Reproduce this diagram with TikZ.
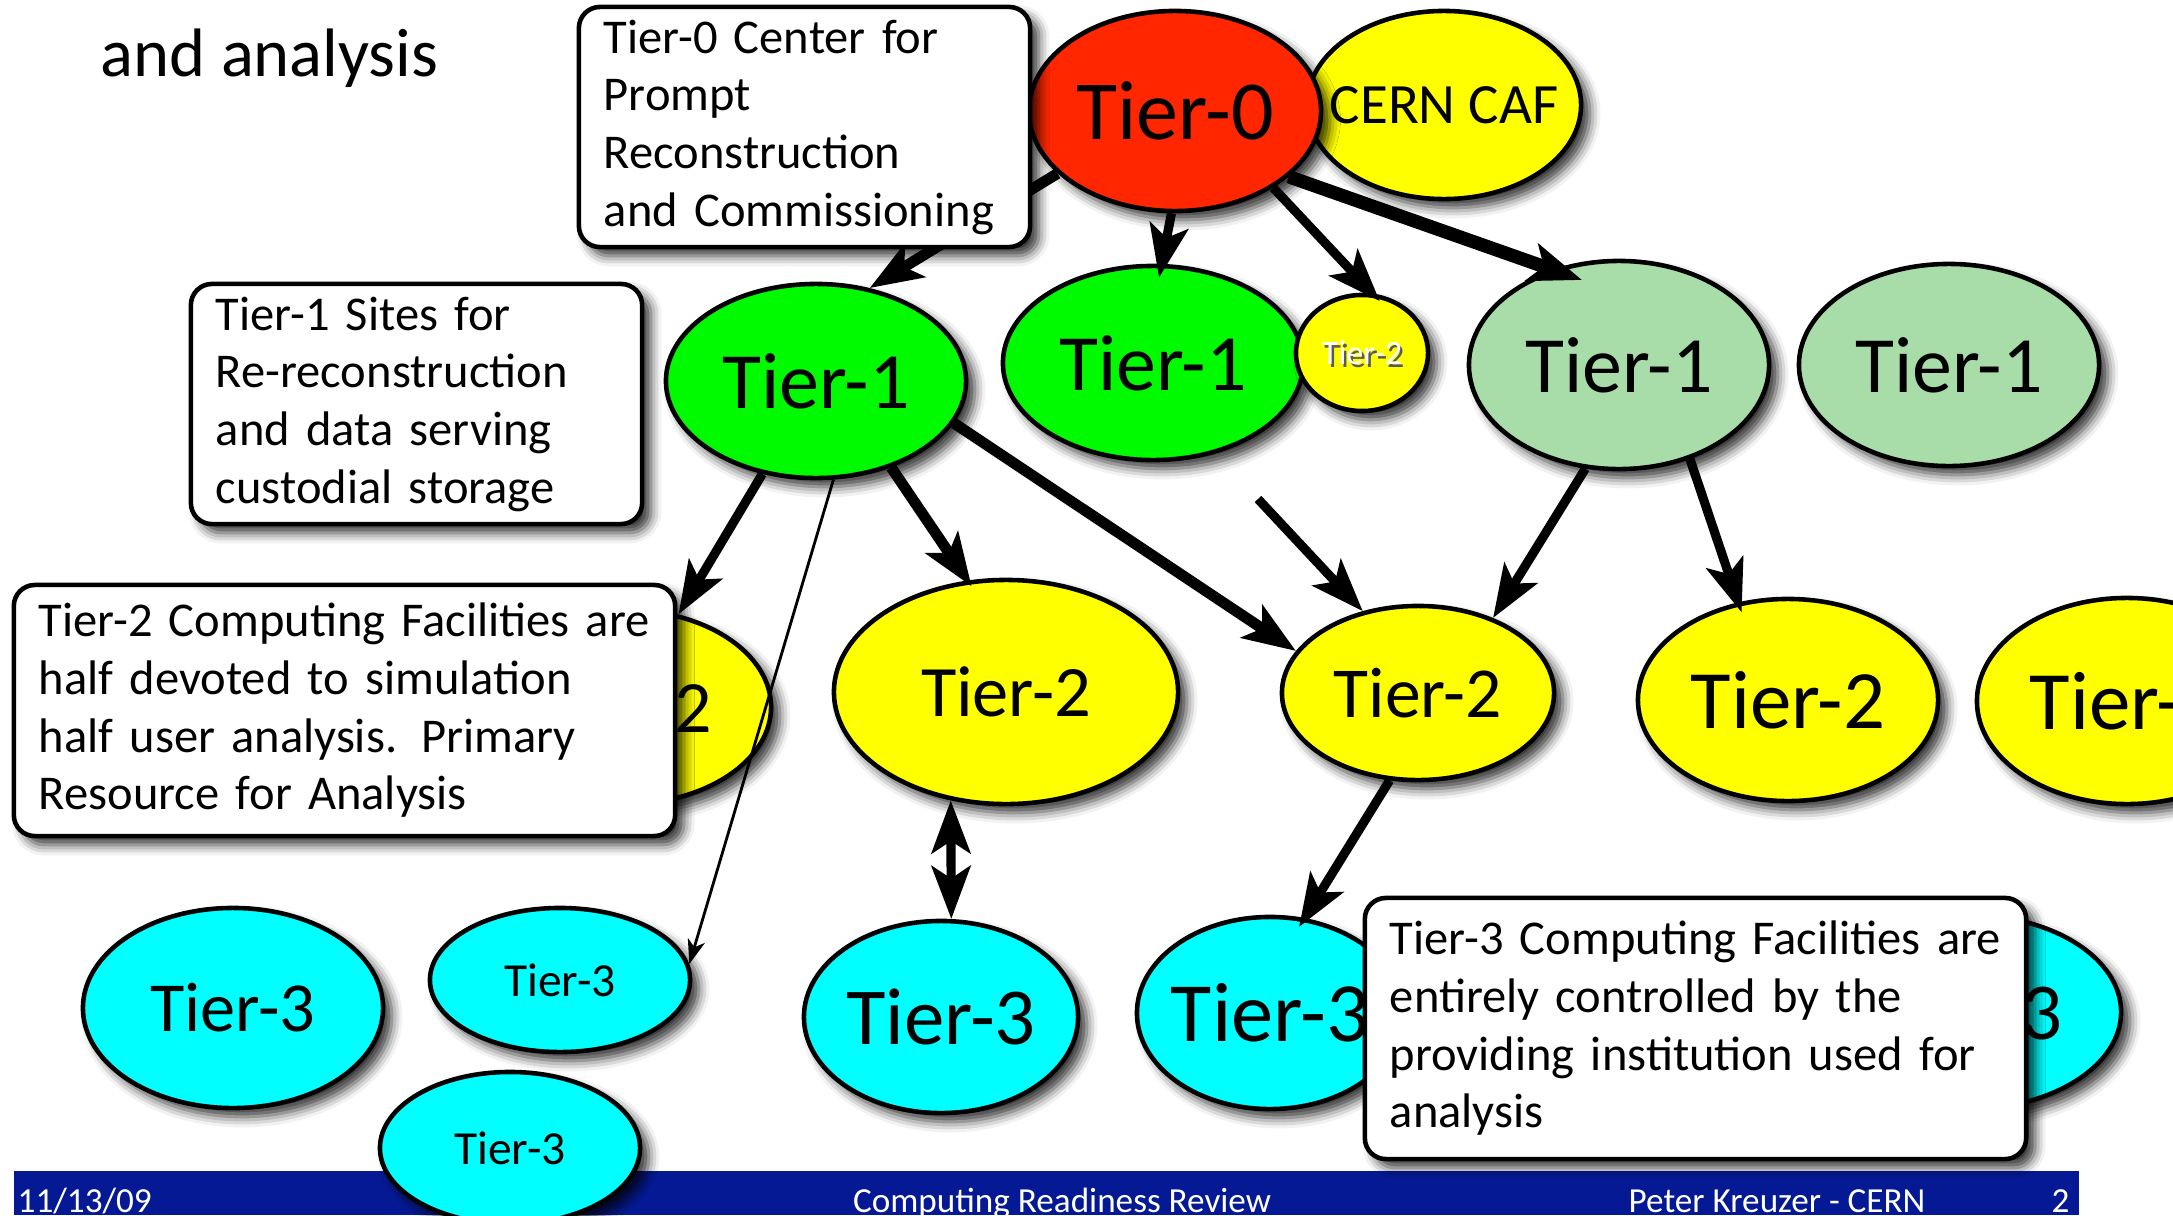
\documentclass[tikz,border=0pt]{standalone}
\usepackage{fontspec}
\setmainfont{Carlito}
\usetikzlibrary{shapes.geometric,arrows.meta,shadows.blur}
\definecolor{tierred}{RGB}{255,38,0}
\definecolor{tieryellow}{RGB}{255,255,0}
\definecolor{tiergreen}{RGB}{0,250,0}
\definecolor{tierpale}{RGB}{168,220,168}
\definecolor{tiercyan}{RGB}{0,255,255}
\definecolor{footblue}{RGB}{5,25,148}

\begin{document}
\begin{tikzpicture} [
                x=0.01cm, y=-0.01cm,
                soft shadow/.style={blur shadow={shadow xshift=2.5pt, shadow yshift=-2.5pt,
                    shadow blur radius=3pt, shadow opacity=80}},
                site/.style={ellipse, draw, line width=1.3pt, inner sep=0pt, soft shadow},
                notebox/.style={rectangle, draw, fill=white, line width=1.3pt, rounded corners=6pt,
                    align=left, inner xsep=0.25cm, inner ysep=0pt,
                    font=\fontsize{13.8}{16.4}\selectfont, soft shadow},
                link/.style={draw, line width=2.6pt, -{Stealth[length=15pt,width=11pt,inset=3.5pt]}},
                twoway/.style={link, {Stealth[length=15pt,width=11pt,inset=3.5pt]}-{Stealth[length=15pt,width=11pt,inset=3.5pt]}},
                foot/.style={text=white, font=\fontsize{10}{12}\selectfont, inner sep=0pt},
            ]
            \clip (0,0) rectangle (2173,1215);
            % footer bar of the slide
            \fill[footblue] (14,1171) rectangle (2079,1215);
            \node[anchor=base west, inner sep=0pt, font=\fontsize{19.5}{22}\selectfont] (subtitle) at (100,76) {and analysis};
            % Tier-3 sites
            \foreach \pos/\name/\w/\h/\fs in {
                    {(233,1008)/T3a/3.00/2.00/20}, {(560,980)/T3b/2.60/1.44/13.5},
                    {(510,1148)/T3c/2.60/1.52/13.5}, {(941,1017)/T3d/2.74/1.92/23},
                    {(1270,1013)/T3e/2.66/1.92/24}, {(1968,1012)/T3f/3.06/1.94/23}}
                \node[site, fill=tiercyan, minimum width=\w cm, minimum height=\h cm,
                    font=\fontsize{\fs}{\fs}\selectfont] (\name) at \pos {\makebox[0pt]{Tier-3}};
            % Tier-2 sites
            \foreach \pos/\name/\w/\h/\fs in {
                    {(625,707)/T2a/2.92/1.94/21}, {(1006,692)/T2b/3.44/2.24/20.6},
                    {(1418,693)/T2c/2.72/1.74/20.4}, {(1788,700)/T2d/3.00/2.02/23.6},
                    {(2127,701)/T2e/3.00/2.06/23.6}}
                \node[site, fill=tieryellow, minimum width=\w cm, minimum height=\h cm,
                    font=\fontsize{\fs}{\fs}\selectfont] (\name) at \pos {\makebox[0pt]{Tier-2}};
            % Tier-1 sites
            \foreach \pos/\name/\h/\col in {
                    {(816,381)/T1a/1.94/tiergreen}, {(1153,363)/T1b/1.94/tiergreen},
                    {(1619,365)/T1c/2.08/tierpale}, {(1949,365)/T1d/2.02/tierpale}}
                \node[site, fill=\col, minimum width=3.00cm, minimum height=\h cm,
                    font=\fontsize{22.7}{22.7}\selectfont] (\name) at \pos {\makebox[0pt]{Tier-1}};
            \node[site, fill=tieryellow, minimum width=1.32cm, minimum height=1.16cm] (T2s) at (1362,353) {};
            \node[inner sep=0pt, text=black!65, font=\fontsize{9.7}{9.7}\selectfont] (T2sshade) at ([xshift=0.7pt,yshift=-0.7pt]T2s.center) {Tier-2};
            \node[inner sep=0pt, text=white, font=\fontsize{9.7}{9.7}\selectfont] (T2slabel) at (T2s.center) {Tier-2};
            % Tier-0 and the CAF
            \node[site, fill=tieryellow, minimum width=2.74cm, minimum height=1.88cm,
                font=\fontsize{16.2}{16.2}\selectfont] (CAF) at (1444,105) {\makebox[0pt]{CERN CAF}};
            \node[site, fill=tierred, minimum width=2.92cm, minimum height=2.00cm,
                font=\fontsize{23.9}{23.9}\selectfont] (T0) at (1175,111) {\makebox[0pt]{Tier-0}};
            % Connect the sites
            \foreach \source/\dest/\w/\ext in {
                    T0.208/T1a.60/3.1pt/0pt, T0.268/T1b.85/2.6pt/-4pt,
                    T0.322/T2s.80/2.6pt/-3pt, T0.330/T1c.125/3.8pt/-9pt,
                    T1a.240/T2a.60/2.6pt/0pt, T1a.311/T2b.109/3.1pt/-2pt,
                    T1a.343/T2c.161/3.1pt/0pt, T1c.252/T2c.45/2.6pt/0pt,
                    T1c.307/T2d.117/2.6pt/-3pt, T2c.252/T3e.70/2.6pt/-3pt}
                \path[link, line width=\w, shorten >=\ext] (\source) -- (\dest);
            \coordinate (T1bfeed) at (1258,499);
            \path[link] (T1bfeed) -- (T2c.124);
            \path[link, line width=0.8pt, -{Stealth[length=7pt,width=5pt,inset=2pt]}] (T1a.280) -- (T3b.7.5);
            \path[twoway] (T2b.243) -- (T3d.84);
            % text boxes
            \node[notebox, text width=4.01cm, minimum height=2.40cm] (t0note) at (804.5,127)
                {Tier-0 Center for\\Prompt\\Reconstruction\\and Commissioning};
            \node[notebox, text width=4.01cm, minimum height=2.40cm] (t1note) at (416.5,404)
                {Tier-1 Sites for\\Re-reconstruction\\and data serving\\custodial storage};
            \node[notebox, text width=6.11cm, minimum height=2.51cm] (t2note) at (344.5,710.5)
                {Tier-2 Computing Facilities are\\half devoted to simulation\\half user analysis. Primary\\Resource for Analysis};
            \node[notebox, text width=6.11cm, minimum height=2.61cm] (t3note) at (1695.5,1028.5)
                {Tier-3 Computing Facilities are\\entirely controlled by the\\providing institution used for\\analysis};
            % footer texts
            \node[foot, anchor=base west] (date) at (17,1212) {11/13/09};
            \node[foot, anchor=base] (event) at (1062,1212) {Computing Readiness Review};
            \node[foot, anchor=base west] (speaker) at (1628,1212) {Peter Kreuzer - CERN};
            \node[foot, anchor=base west] (page) at (2051,1212) {2};
        \end{tikzpicture}
\end{document}
